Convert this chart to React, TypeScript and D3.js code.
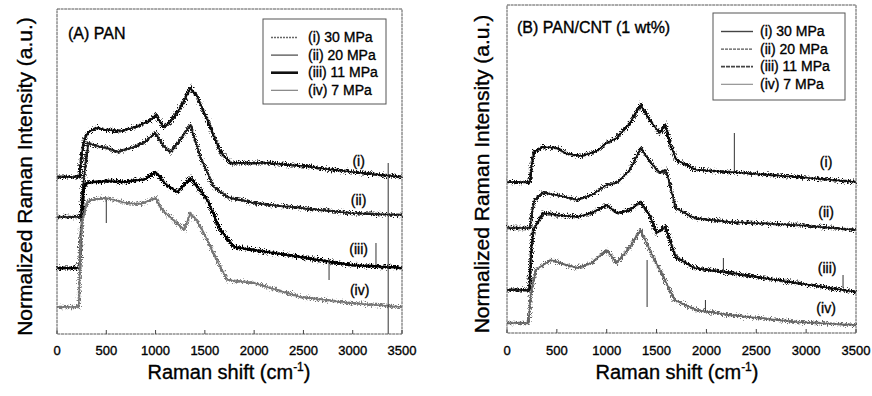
import * as d3 from "d3";

// Raman shift (cm-1) / normalized intensity (a.u., stacked offsets)
const panelATitle = "(A) PAN";
const panelBTitle = "(B) PAN/CNT (1 wt%)";
const seriesNames = ["(i) 30 MPa", "(ii) 20 MPa", "(iii) 11 MPa", "(iv) 7 MPa"];
const curveTags = ["(i)", "(ii)", "(iii)", "(iv)"];
const xTicks = [0, 500, 1000, 1500, 2000, 2500, 3000, 3500];

const aI: [number, number][] = [[0,1.57],[230,1.57],[250,1.80],[280,1.95],[320,2.02],[400,2.06],[500,2.04],[650,2.03],[800,2.07],[950,2.14],[1000,2.19],[1080,2.07],[1150,2.12],[1250,2.26],[1353,2.46],[1420,2.38],[1525,2.14],[1658,1.82],[1760,1.71],[2136,1.71],[2500,1.68],[2810,1.64],[3200,1.60],[3500,1.57]];
const aII: [number, number][] = [[0,1.17],[240,1.17],[265,1.50],[316,1.91],[400,1.88],[500,1.86],[610,1.82],[750,1.86],[876,1.91],[997,2.01],[1080,1.88],[1150,1.82],[1250,1.94],[1353,2.09],[1455,1.77],[1590,1.47],[1730,1.37],[1995,1.31],[2470,1.26],[2980,1.21],[3500,1.19]];
const aIII: [number, number][] = [[0,0.66],[230,0.66],[250,1.10],[270,1.45],[300,1.51],[500,1.53],[700,1.52],[900,1.55],[1000,1.62],[1100,1.50],[1220,1.42],[1300,1.50],[1353,1.56],[1420,1.48],[1525,1.34],[1658,1.04],[1795,0.87],[1995,0.84],[2470,0.77],[2980,0.69],[3500,0.66]];
const aIV: [number, number][] = [[0,0.27],[220,0.27],[240,0.90],[260,1.15],[300,1.30],[335,1.34],[500,1.36],[700,1.31],[850,1.30],[1000,1.36],[1060,1.25],[1200,1.12],[1290,1.04],[1353,1.21],[1420,1.13],[1525,0.94],[1630,0.72],[1730,0.54],[1995,0.51],[2470,0.37],[2980,0.31],[3500,0.27]];
// [shift, from, to]
const aSpikes: [number, number, number][] = [[3360,0.0,1.71],[500,1.11,1.34],[3236,0.69,0.91],[2760,0.54,0.75]];
const aTagPos: [number, number][] = [[3060,1.68],[3060,1.29],[3060,0.80],[3070,0.39]];

const bI: [number, number][] = [[0,1.51],[230,1.51],[250,1.70],[270,1.81],[360,1.86],[500,1.85],[600,1.79],[750,1.77],[900,1.82],[1000,1.90],[1100,1.95],[1233,2.10],[1340,2.28],[1430,2.13],[1530,2.00],[1590,2.08],[1630,1.90],[1700,1.73],[1900,1.63],[2240,1.61],[2910,1.56],[3500,1.51]];
const bII: [number, number][] = [[0,1.05],[230,1.05],[250,1.20],[275,1.33],[360,1.40],[500,1.38],[700,1.33],[850,1.38],[1000,1.48],[1100,1.50],[1233,1.63],[1340,1.85],[1430,1.72],[1530,1.60],[1590,1.63],[1630,1.50],[1690,1.25],[1880,1.15],[2240,1.11],[2910,1.08],[3500,1.03]];
const bIII: [number, number][] = [[0,0.43],[225,0.43],[245,0.85],[265,1.03],[360,1.20],[500,1.18],[700,1.16],[850,1.20],[1000,1.28],[1100,1.20],[1233,1.23],[1340,1.31],[1430,1.18],[1500,1.00],[1590,1.06],[1690,0.76],[1880,0.65],[2240,0.60],[2910,0.50],[3500,0.41]];
const bIV: [number, number][] = [[0,0.10],[215,0.10],[240,0.40],[290,0.63],[440,0.73],[700,0.65],[850,0.70],[1000,0.83],[1100,0.70],[1233,0.86],[1340,1.03],[1430,0.83],[1570,0.56],[1680,0.33],[1900,0.23],[2240,0.18],[2910,0.11],[3500,0.08]];
const bSpikes: [number, number, number][] = [[2280,1.61,2.00],[1405,0.26,0.73],[2170,0.62,0.75],[3370,0.45,0.58],[1990,0.22,0.33]];
const bTagPos: [number, number][] = [[3200,1.66],[3200,1.16],[3210,0.60],[3200,0.20]];

const FONT = "'Liberation Sans', Arial, sans-serif";
const INK = { fill: "#000", stroke: "#000", strokeWidth: 0.35 };

type Style = { color: string; width: number; dash?: string };

const panels = [
  {
    title: panelATitle, series: [aI, aII, aIII, aIV], spikes: aSpikes, tags: aTagPos,
    left: 57, right: 402, top: 9, bottom: 334, yMax: 3.25,
    titleX: 68, titleY: 39, yTitleX: 32, xTitleX: 229,
    legend: { x: 263, y: 19, w: 123, h: 85, lx0: 271, lx1: 298, tx: 308, row0: 42 },
    curve: [{ color: "#111", width: 2.8 }, { color: "#1a1a1a", width: 2.5 }, { color: "#000", width: 3.1 }, { color: "#777", width: 2.5 }] as Style[],
    key: [{ color: "#666", width: 1.4, dash: "2,1" }, { color: "#444", width: 1.2 }, { color: "#111", width: 2.6 }, { color: "#777", width: 1.1 }] as Style[],
  },
  {
    title: panelBTitle, series: [bI, bII, bIII, bIV], spikes: bSpikes, tags: bTagPos,
    left: 507, right: 856, top: 5, bottom: 333, yMax: 3.28,
    titleX: 517, titleY: 33, yTitleX: 489, xTitleX: 677,
    legend: { x: 713, y: 13, w: 132, h: 87, lx0: 721, lx1: 753, tx: 760, row0: 36 },
    curve: [{ color: "#0d0d0d", width: 2.6 }, { color: "#151515", width: 2.4 }, { color: "#0d0d0d", width: 2.8 }, { color: "#666", width: 2.4 }] as Style[],
    key: [{ color: "#444", width: 1.4 }, { color: "#555", width: 1.4, dash: "3,1" }, { color: "#444", width: 1.8, dash: "4,1" }, { color: "#888", width: 1.1 }] as Style[],
  },
];

function Panel({ p }: { p: (typeof panels)[number] }) {
  const x = d3.scaleLinear().domain([0, 3500]).range([p.left, p.right]);
  const y = d3.scaleLinear().domain([0, p.yMax]).range([p.bottom, p.top]);
  const line = d3.line<[number, number]>().x((d) => x(d[0])).y((d) => y(d[1]));
  const midY = (p.top + p.bottom) / 2;
  return (
    <g>
      <g>
        {p.series.map((s, i) => (
          <g key={i}>
            <path d={line(s) ?? ""} fill="none" stroke={p.curve[i].color} strokeWidth={p.curve[i].width * 0.6} strokeLinejoin="round" />
            <path d={line(s) ?? ""} fill="none" stroke={p.curve[i].color} strokeWidth={p.curve[i].width} filter="url(#noisy)" />
          </g>
        ))}
        {p.spikes.map((s, i) => (
          <line key={i} x1={x(s[0])} x2={x(s[0])} y1={y(s[1])} y2={y(s[2])} stroke="#333" strokeWidth={1} />
        ))}
      </g>
      <rect x={p.left} y={p.top} width={p.right - p.left} height={p.bottom - p.top} fill="none" stroke="#555" strokeWidth={1} strokeDasharray="3,0.6" />
      {xTicks.map((t) => (
        <g key={t}>
          <line x1={x(t)} x2={x(t)} y1={p.bottom} y2={p.bottom - 4} stroke="#444" />
          <text x={x(t)} y={355} textAnchor="middle" fontSize={13} fontFamily={FONT} {...INK}>{t}</text>
        </g>
      ))}
      {p.tags.map((t, i) => (
        <text key={i} x={x(t[0])} y={y(t[1])} textAnchor="middle" fontSize={14} fontFamily={FONT} {...INK}>{curveTags[i]}</text>
      ))}
      <text x={p.titleX} y={p.titleY} fontSize={16} fontFamily={FONT} {...INK}>{p.title}</text>
      <text x={p.xTitleX} y={379} textAnchor="middle" fontSize={20} fontFamily={FONT} {...INK}>
        Raman shift (cm<tspan dy={-8} fontSize={12}>-1</tspan><tspan dy={8}>)</tspan>
      </text>
      <text transform={`translate(${p.yTitleX},${midY + 5}) rotate(-90)`} textAnchor="middle" fontSize={21} fontFamily={FONT} {...INK}>
        Normalized Raman Intensity (a.u.)
      </text>
      <rect x={p.legend.x} y={p.legend.y} width={p.legend.w} height={p.legend.h} fill="#fff" stroke="#555" strokeWidth={1} />
      {seriesNames.map((n, i) => {
        const by = p.legend.row0 + i * 17.6;
        return (
          <g key={n}>
            <line x1={p.legend.lx0} x2={p.legend.lx1} y1={by - 4.5} y2={by - 4.5} stroke={p.key[i].color} strokeWidth={p.key[i].width} strokeDasharray={p.key[i].dash} />
            <text x={p.legend.tx} y={by} fontSize={14} fontFamily={FONT} {...INK}>{n}</text>
          </g>
        );
      })}
    </g>
  );
}

export default function App() {
  return (
    <svg width={872} height={396} style={{ position: "absolute", left: 0, top: 0, background: "#fff" }}>
      <defs>
        <filter id="noisy" x="-5%" y="-20%" width="110%" height="140%">
          <feTurbulence type="fractalNoise" baseFrequency="1.2 0.7" numOctaves={2} seed={7} result="t" />
          <feDisplacementMap in="SourceGraphic" in2="t" scale={8} xChannelSelector="R" yChannelSelector="G" />
        </filter>
      </defs>
      {panels.map((p, i) => (
        <Panel key={i} p={p} />
      ))}
    </svg>
  );
}
